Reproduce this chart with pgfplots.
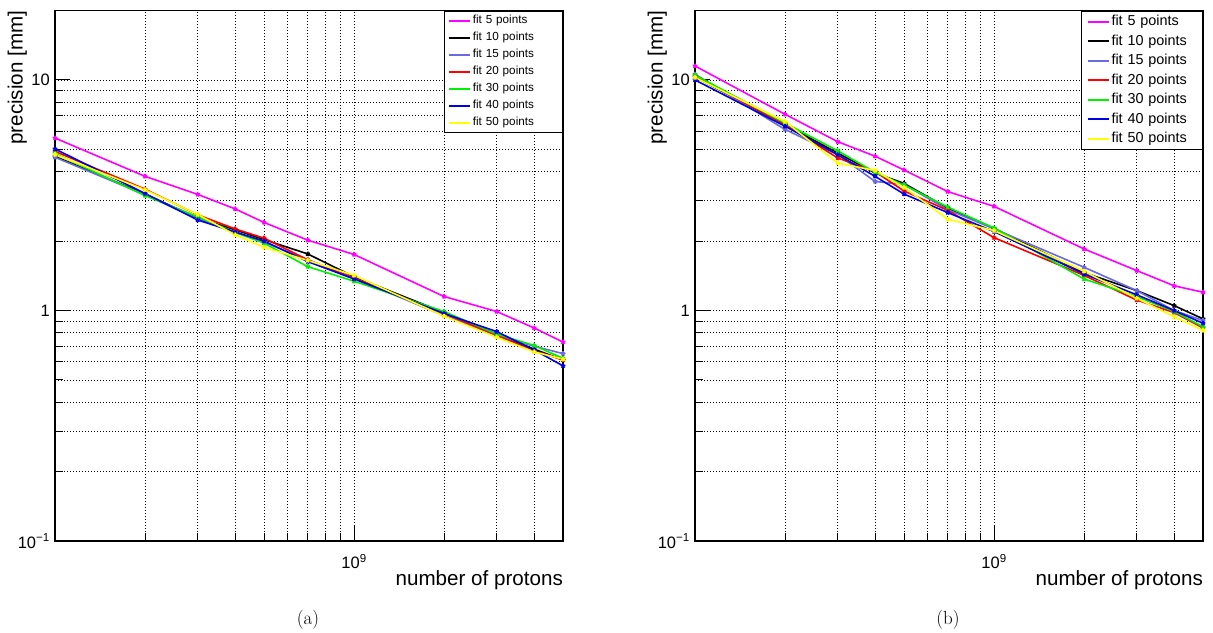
\documentclass[border=0pt]{standalone}
\usepackage{pgfplots}
\pgfplotsset{compat=1.18}
\usepackage{pgfplotstable}
\usepackage{fontspec}
\newfontfamily\arial{Liberation Sans}
\definecolor{cmag}{RGB}{255,0,255}
\definecolor{cpur}{RGB}{105,105,225}
\definecolor{cred}{RGB}{255,0,0}
\definecolor{cgrn}{RGB}{0,240,0}
\definecolor{cblu}{RGB}{0,0,230}
\definecolor{cyel}{RGB}{255,255,0}

% panel (a)
\pgfplotstableread{
N     f5    f10   f15   f20   f30   f40   f50
1e8   5.6   4.66  4.62  4.90  4.80  5.02  4.75
2e8   3.82  3.20  3.18  3.36  3.15  3.22  3.34
3e8   3.19  2.52  2.50  2.60  2.55  2.47  2.61
4e8   2.76  2.24  2.20  2.26  2.18  2.19  2.13
5e8   2.41  2.03  1.98  2.06  1.96  2.00  1.88
7e8   2.02  1.76  1.66  1.66  1.55  1.63  1.65
1e9   1.75  1.40  1.38  1.38  1.34  1.37  1.42
2e9   1.15  0.98  0.95  0.97  0.99  0.97  0.945
3e9   0.99  0.79  0.78  0.78  0.79  0.81  0.765
4e9   0.84  0.68  0.70  0.67  0.705 0.675 0.662
5e9   0.73  0.61  0.65  0.61  0.62  0.575 0.615
}\tabA
% panel (b)
\pgfplotstableread{
N     f5    f10   f15   f20   f30   f40   f50
1e8   11.5  10.3  10.6  10.4  10.5  10.0  10.25
2e8   7.1   6.4   6.1   6.4   6.5   6.3   6.6
3e8   5.4   4.82  4.75  4.59  4.93  4.74  4.36
4e8   4.67  3.95  3.63  4.00  3.98  3.82  4.05
5e8   4.07  3.56  3.52  3.30  3.50  3.20  3.42
7e8   3.28  2.78  2.74  2.72  2.81  2.66  2.49
1e9   2.83  2.27  2.26  2.07  2.28  2.20  2.22
2e9   1.85  1.46  1.54  1.42  1.37  1.44  1.48
3e9   1.49  1.22  1.22  1.11  1.15  1.17  1.13
4e9   1.28  1.05  1.00  0.98  0.99  1.00  0.94
5e9   1.20  0.92  0.905 0.84  0.85  0.88  0.82
}\tabB

\pgfplotsset{
  scale only axis, width=508pt, height=530.4pt,
  xmin=1e8, xmax=5e9, ymin=0.1, ymax=20,
  axis line style={line width=1.4pt},
  tick align=inside, tick pos=left,
  major tick length=15pt, minor tick length=8pt,
  every tick/.style={black, line width=1pt},
  grid=both,
  major grid style={black, line width=0.7pt, dash pattern=on 1pt off 2pt},
  minor grid style={black, line width=0.7pt, dash pattern=on 1pt off 2pt},
  tick label style={font=\arial\fontsize{16.5}{18}\selectfont},
  xticklabel style={anchor=north, inner sep=0pt, yshift=-13pt},
  yticklabel style={anchor=east, inner sep=0pt, xshift=-5pt},
  label style={font=\arial\fontsize{20.6}{22}\selectfont},
  xlabel style={at={(axis description cs:1,0)}, anchor=base east, inner sep=0pt, yshift=-44pt},
  ylabel style={at={(axis description cs:-0.0636,1)}, anchor=base east, inner sep=0pt},
  legend cell align=left,
  legend image code/.code={\draw[#1,mark=none,line width=1.8pt] (0pt,0pt) -- (21pt,0pt);},
  every axis plot/.append style={line width=1.6pt, mark=star, mark size=2.4pt, mark options={solid}},
}

\begin{document}
\begin{tikzpicture}[x=1pt,y=1pt]
\path (0,0) rectangle (1213,630);
\begin{axis}[at={(55pt,89pt)}, anchor=south west,
  xmode=log, ymode=log,
  xtick={1e9}, xticklabels={10\textsuperscript{9}},
  minor xtick={2e8,3e8,4e8,5e8,6e8,7e8,8e8,9e8,2e9,3e9,4e9},
  ytick={0.1,1,10}, yticklabels={10\textsuperscript{−1},1,10},
  minor ytick={0.2,0.3,0.4,0.5,0.6,0.7,0.8,0.9,2,3,4,5,6,7,8,9},
  xlabel={number of protons}, ylabel={precision [mm]},
  legend style={at={(1,1)}, anchor=north east, draw=black, line width=1pt,
    inner xsep=4pt, inner ysep=2pt, row sep=2pt,
    font=\arial\fontsize{11.7}{13}\selectfont,
    nodes={inner sep=2pt, text height=8.5pt, text depth=2.5pt, text width=83.7pt}}]
\addplot[color=cmag] table[x=N,y=f5]{\tabA};
\addplot[color=black] table[x=N,y=f10]{\tabA};
\addplot[color=cpur] table[x=N,y=f15]{\tabA};
\addplot[color=cred] table[x=N,y=f20]{\tabA};
\addplot[color=cgrn] table[x=N,y=f30]{\tabA};
\addplot[color=cblu] table[x=N,y=f40]{\tabA};
\addplot[color=cyel] table[x=N,y=f50]{\tabA};
\legend{fit 5 points,fit 10 points,fit 15 points,fit 20 points,fit 30 points,fit 40 points,fit 50 points}
\end{axis}
\begin{axis}[at={(695pt,89pt)}, anchor=south west,
  xmode=log, ymode=log,
  xtick={1e9}, xticklabels={10\textsuperscript{9}},
  minor xtick={2e8,3e8,4e8,5e8,6e8,7e8,8e8,9e8,2e9,3e9,4e9},
  ytick={0.1,1,10}, yticklabels={10\textsuperscript{−1},1,10},
  minor ytick={0.2,0.3,0.4,0.5,0.6,0.7,0.8,0.9,2,3,4,5,6,7,8,9},
  xlabel={number of protons}, ylabel={precision [mm]},
  legend style={at={(1,1)}, anchor=north east, draw=black, line width=1pt,
    inner xsep=5pt, inner ysep=2pt, row sep=2pt,
    font=\arial\fontsize{14.4}{16}\selectfont,
    nodes={inner sep=2pt, text height=10.5pt, text depth=3pt, text width=84pt}}]
\addplot[color=cmag] table[x=N,y=f5]{\tabB};
\addplot[color=black] table[x=N,y=f10]{\tabB};
\addplot[color=cpur] table[x=N,y=f15]{\tabB};
\addplot[color=cred] table[x=N,y=f20]{\tabB};
\addplot[color=cgrn] table[x=N,y=f30]{\tabB};
\addplot[color=cblu] table[x=N,y=f40]{\tabB};
\addplot[color=cyel] table[x=N,y=f50]{\tabB};
\legend{fit 5 points,fit 10 points,fit 15 points,fit 20 points,fit 30 points,fit 40 points,fit 50 points}
\end{axis}
\node[font=\fontsize{19}{22}\selectfont] at (308,10) {(a)};
\node[font=\fontsize{19}{22}\selectfont] at (948,10) {(b)};
\end{tikzpicture}
\end{document}
